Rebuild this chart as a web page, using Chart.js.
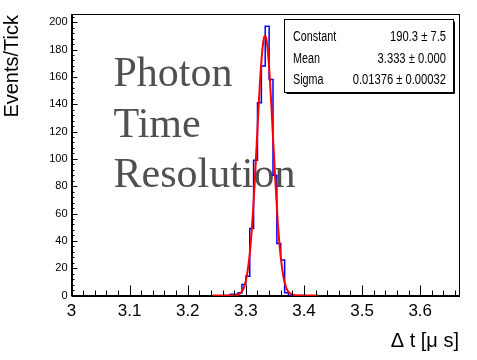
<!DOCTYPE html>
<html><head><meta charset="utf-8">
<script src="https://cdn.jsdelivr.net/npm/chart.js@4.4.0/dist/chart.umd.min.js"></script>
<style>html,body{margin:0;padding:0;background:#fff;}canvas{display:block;}</style>
</head><body>
<div style="width:477px;height:360px;position:relative"><canvas id="c" width="477" height="360"></canvas></div>
<script>
// Histogram: left bin edges (last entry = right edge of final bin) and counts
const binEdges = [3.26,3.2667,3.2733,3.28,3.2867,3.2933,3.30,3.3067,3.3133,3.32,3.3267,3.3333,3.34,3.3467,3.3533,3.36,3.3667,3.3733,3.38,3.3867,3.3933,3.40];
const counts   = [0,0,1,1,2,8,14,49,99,141,168,197,158,88,38,26,2,0,0,0,0];
// Fitted curve
const fitX = [3.243,3.26,3.27,3.28,3.285,3.29,3.295,3.30,3.305,3.31,3.315,3.32,3.325,3.33,3.333,3.336,3.34,3.345,3.35,3.355,3.36,3.365,3.37,3.375,3.38,3.385,3.39,3.40,3.424];
const fitY = [0,0,0,0.1,0.4,1.4,4.2,10.7,24,47,81,122,161,186,190.3,186,167,130,89,53,28,12.7,5.1,1.8,0.6,0.2,0,0,0];
// Axis ticks
const xMajorValues = [3.0,3.1,3.2,3.3,3.4,3.5,3.6];
const xTickLabels  = ['3','3.1','3.2','3.3','3.4','3.5','3.6'];
const yMajorValues = [0,20,40,60,80,100,120,140,160,180,200];
const yTickLabels  = ['0','20','40','60','80','100','120','140','160','180','200'];
// Texts
const xTitle = 'Δ t [μ s]';
const yTitle = 'Events/Tick';
const overlayLines = ['Photon','Time','Resolution'];
const statNames  = ['Constant','Mean','Sigma'];
const statValues = ['190.3 ± 7.5','3.333 ± 0.000','0.01376 ± 0.00032'];

const histData = binEdges.map((x,i)=>({x:x, y:counts[Math.min(i,counts.length-1)]}));
const fitData = fitX.map((x,i)=>({x:x, y:fitY[i]}));

function labelFor(values, labels, v){
  const i = values.findIndex(m=>Math.abs(m-v)<1e-6);
  return i>=0 ? labels[i] : '';
}
function narrowText(ctx, t, x, y, align, sx){
  ctx.save();
  ctx.translate(x, y);
  ctx.scale(sx, 1);
  ctx.textAlign = align;
  ctx.fillText(t, 0, 0);
  ctx.restore();
}

const frameAndText = {
  id:'frameAndText',
  beforeDatasetsDraw(chart){
    const ctx = chart.ctx;
    ctx.save();
    ctx.fillStyle = '#505050';
    ctx.font = '42px "Liberation Serif", "Times New Roman", serif';
    ctx.textAlign = 'left';
    ctx.textBaseline = 'alphabetic';
    const base = [86, 137, 187];
    overlayLines.forEach((t,i)=>ctx.fillText(t, 113.5, base[i]));
    ctx.restore();
  },
  afterDatasetsDraw(chart){
    const ctx = chart.ctx;
    const a = chart.chartArea;
    const xs = chart.scales.x, ys = chart.scales.y;
    ctx.save();
    ctx.strokeStyle = '#000';
    ctx.lineWidth = 1;
    // frame
    ctx.strokeRect(Math.round(a.left)+0.5, Math.round(a.top)+0.5, Math.round(a.right)-Math.round(a.left), Math.round(a.bottom)-Math.round(a.top));
    // inward ticks
    ctx.beginPath();
    xs.ticks.forEach(t=>{
      const px = Math.round(xs.getPixelForValue(t.value))+0.5;
      const major = labelFor(xMajorValues,xTickLabels,t.value)!=='';
      const len = major ? 10 : 5;
      ctx.moveTo(px, a.bottom); ctx.lineTo(px, a.bottom-len);
    });
    ys.ticks.forEach(t=>{
      const py = Math.round(ys.getPixelForValue(t.value))+0.5;
      const major = labelFor(yMajorValues,yTickLabels,t.value)!=='';
      const len = major ? 6 : 3;
      ctx.moveTo(a.left, py); ctx.lineTo(a.left+len, py);
    });
    ctx.stroke();
    // stats box
    const bx=284.5, by=19.5, bw=169, bh=73;
    ctx.fillStyle='#fff';
    ctx.fillRect(bx,by,bw,bh);
    ctx.strokeRect(bx,by,bw,bh);
    ctx.beginPath();
    ctx.moveTo(bx+bw+1, by+2); ctx.lineTo(bx+bw+1, by+bh+1); ctx.lineTo(bx+2, by+bh+1);
    ctx.stroke();
    ctx.fillStyle='#000';
    ctx.font = '14px "Liberation Sans", Arial, sans-serif';
    ctx.textBaseline='alphabetic';
    const rows=[41,62.5,84];
    statNames.forEach((n,i)=>{
      narrowText(ctx, n, 293, rows[i], 'left', 0.77);
      narrowText(ctx, statValues[i], 446, rows[i], 'right', 0.8);
    });
    // axis titles
    ctx.font = '20px "Liberation Sans", Arial, sans-serif';
    ctx.textAlign='right'; ctx.textBaseline='alphabetic';
    ctx.fillText(xTitle, 459, 347);
    ctx.translate(18, 15);
    ctx.rotate(-Math.PI/2);
    ctx.textAlign='right';
    ctx.fillText(yTitle, 0, 0);
    ctx.restore();
  }
};

new Chart(document.getElementById('c'), {
  type:'line',
  data:{datasets:[
    {data:fitData, borderColor:'#ff0000', borderWidth:2, pointRadius:0, cubicInterpolationMode:'monotone', tension:0.4, fill:false, clip:false},
    {data:histData, borderColor:'#0000ff', borderWidth:1.5, pointRadius:0, stepped:true, fill:false}
  ]},
  options:{
    responsive:false, animation:false,
    layout:{padding:{left:0,right:18,top:14,bottom:0}},
    plugins:{legend:{display:false}, tooltip:{enabled:false}},
    scales:{
      x:{type:'linear', min:3, max:3.6667,
        grid:{display:false, drawTicks:false},
        border:{display:true, color:'#000', width:1},
        ticks:{stepSize:0.02, includeBounds:false, autoSkip:false, maxRotation:0, minRotation:0, padding:6,
          color:'#000', font:{family:'"Liberation Sans", Arial, sans-serif', size:17},
          callback:(v)=>labelFor(xMajorValues,xTickLabels,v)},
        afterFit:(s)=>{s.height=64.5;}
      },
      y:{type:'linear', min:0, max:206,
        grid:{display:false, drawTicks:false},
        border:{display:true, color:'#000', width:1},
        ticks:{stepSize:4, includeBounds:false, autoSkip:false, padding:4,
          color:'#000', font:{family:'"Liberation Sans", Arial, sans-serif', size:11},
          callback:(v)=>labelFor(yMajorValues,yTickLabels,v)},
        afterFit:(s)=>{s.width=71.5;}
      }
    }
  },
  plugins:[frameAndText]
});
</script>
</body></html>
